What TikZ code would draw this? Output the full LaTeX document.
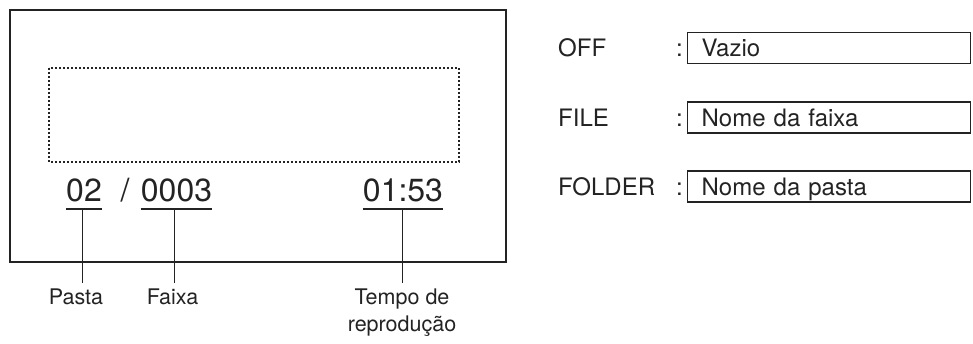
\documentclass[tikz,border=0pt]{standalone}
\usepackage{fontspec}
\setmainfont{TeX Gyre Heros}
\usetikzlibrary{positioning}
\definecolor{ink}{RGB}{35,35,35}

\begin{document}
\begin{tikzpicture}[x=1pt,y=-1pt,color=ink,
  disp/.style={font=\fontsize{32}{32}\selectfont,inner sep=0pt,anchor=base},
  lbl/.style={font=\fontsize{21.5}{27}\selectfont,align=center,inner sep=0pt,anchor=north},
  mode/.style={font=\fontsize{24}{24}\selectfont,inner sep=0pt,anchor=west},
  field/.style={draw,line width=1.3pt,minimum width=283pt,minimum height=31pt,
    font=\fontsize{24}{24}\selectfont,text depth=0pt,inner xsep=14pt,anchor=west,text width=255pt,align=left},
  lead/.style={line width=1.3pt}]
  \useasboundingbox (0,0) rectangle (973,343);
  % display window
  \draw[line width=2pt] (10,10) rectangle (506,262);
  \draw[line width=1.3pt,dash pattern=on 2pt off 2pt] (49,68) rectangle (459,162);
  \node[disp] (dir) at (84,201) {02};
  \node[disp] (slash) at (125,201) {/};
  \node[disp] (trk) at (176.5,201) {0003};
  \node[disp] (time) at (403,201) {01:53};
  \foreach \n in {dir,trk,time}
    \draw[lead] ([yshift=-8pt]\n.base west) -- ([yshift=-8pt]\n.base east);
  % captions below
  \node[lbl] (pasta) at (76,289) {Pasta};
  \node[lbl] (faixa) at (172.5,289) {Faixa};
  \node[lbl] (tempo) at (402,289) {Tempo de\\reprodução};
  \draw[lead] ([xshift=-1.5pt,yshift=-8pt]dir.base) -- ([xshift=-1.5pt,yshift=6pt]dir.base |- pasta.north);
  \draw[lead] ([xshift=-2pt,yshift=-8pt]trk.base) -- ([xshift=-2pt,yshift=6pt]trk.base |- faixa.north);
  \draw[lead] ([xshift=-0.5pt,yshift=-8pt]time.base) -- ([xshift=-0.5pt,yshift=6pt]time.base |- tempo.north);
  % modes
  \node[mode] (off) at (558,48) {OFF};
  \node[mode] (file) at (558,117.5) {FILE};
  \node[mode] (fold) at (558,186.5) {FOLDER};
  \node[field] (vazio) at (687,48) {Vazio};
  \node[field] (nfaixa) at (687,117.5) {Nome da faixa};
  \node[field] (npasta) at (687,186.5) {Nome da pasta};
  \foreach \m/\b in {off/vazio,file/nfaixa,fold/npasta}
    \node[mode,anchor=base east] at ([xshift=-4pt]\m.base -| \b.west) {:};
\end{tikzpicture}
\end{document}
